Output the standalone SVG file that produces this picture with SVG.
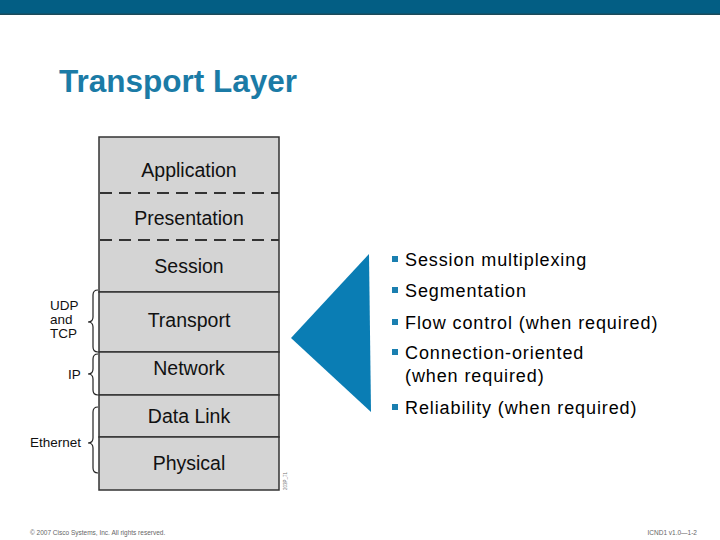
<svg xmlns="http://www.w3.org/2000/svg" width="720" height="540" viewBox="0 0 720 540">
<style>
.layer{fill:#d4d4d4;stroke:#333;stroke-width:1.5}
.ltxt{font-family:"Liberation Sans",Arial,sans-serif;font-size:19.5px;fill:#111;text-anchor:middle}
.dash{stroke:#333;stroke-width:2;stroke-dasharray:12 7}
.brace{fill:none;stroke:#222;stroke-width:1.2}
.lbl{font-family:"Liberation Sans",Arial,sans-serif;font-size:13.5px;fill:#111}
.bul{font-family:"Liberation Sans",Arial,sans-serif;font-size:18px;fill:#000;letter-spacing:0.9px}
.sq{fill:#1a7fb0}
.foot{font-family:"Liberation Sans",Arial,sans-serif;font-size:6.5px;fill:#666}
</style>
<rect width="720" height="540" fill="#fff"/>
<g id="header">
<rect x="0" y="0" width="720" height="14" fill="#035e84"/>
<rect x="0" y="13.5" width="720" height="1.5" fill="#1c4a5a"/>
</g>
<text id="title" x="59" y="92" font-family="'Liberation Sans',Arial,sans-serif" font-size="31.5" font-weight="bold" fill="#1b7ba6">Transport Layer</text>
<g id="upper-layers">
<rect class="layer" x="99" y="137" width="180" height="155"/>
<line class="dash" x1="100" y1="193" x2="279" y2="193"/>
<line class="dash" x1="100" y1="240" x2="279" y2="240"/>
<text class="ltxt" x="189" y="177">Application</text>
<text class="ltxt" x="189" y="225">Presentation</text>
<text class="ltxt" x="189" y="273">Session</text>
</g>
<g id="transport"><rect class="layer" x="99" y="292" width="180" height="60"/><text class="ltxt" x="189" y="327">Transport</text></g>
<g id="network"><rect class="layer" x="99" y="352" width="180" height="43"/><text class="ltxt" x="189" y="375">Network</text></g>
<g id="datalink"><rect class="layer" x="99" y="395" width="180" height="42"/><text class="ltxt" x="189" y="423">Data Link</text></g>
<g id="physical"><rect class="layer" x="99" y="437" width="180" height="53"/><text class="ltxt" x="189" y="470">Physical</text></g>
<text x="287" y="490" transform="rotate(-90 287 490)" font-family="'Liberation Sans',Arial,sans-serif" font-size="4.5" fill="#777">203P_71</text>
<g id="braces">
<g id="udp-tcp">
<path class="brace" d="M98,290 Q93,290 93,295 L93,317 Q93,322 88,322 Q93,322 93,327 L93,347 Q93,352 98,352"/>
<text class="lbl" x="50" y="310">UDP</text>
<text class="lbl" x="50" y="324">and</text>
<text class="lbl" x="50" y="338">TCP</text>
</g>
<g id="ip">
<path class="brace" d="M98,354 Q93,354 93,359 L93,369 Q93,374 88,374 Q93,374 93,379 L93,390 Q93,395 98,395"/>
<text class="lbl" x="68" y="379">IP</text>
</g>
<g id="ethernet">
<path class="brace" d="M98,407 Q93,407 93,412 L93,438 Q93,443 88,443 Q93,443 93,448 L93,468 Q93,473 98,473"/>
<text class="lbl" x="30" y="447">Ethernet</text>
</g>
</g>
<g id="arrow">
<polygon points="369,254 291,338 371,412" fill="#0a7db4"/>
</g>
<g id="bullets">
<rect class="sq" x="392" y="256" width="6" height="6"/><text class="bul" x="405" y="266">Session multiplexing</text>
<rect class="sq" x="392" y="287" width="6" height="6"/><text class="bul" x="405" y="297">Segmentation</text>
<rect class="sq" x="392" y="319" width="6" height="6"/><text class="bul" x="405" y="329">Flow control (when required)</text>
<rect class="sq" x="392" y="349" width="6" height="6"/><text class="bul" x="405" y="359">Connection-oriented</text>
<text class="bul" x="405" y="382">(when required)</text>
<rect class="sq" x="392" y="404" width="6" height="6"/><text class="bul" x="405" y="414">Reliability (when required)</text>
</g>
<g id="footer">
<text class="foot" x="30" y="535">© 2007 Cisco Systems, Inc. All rights reserved.</text>
<text class="foot" x="697" y="535" text-anchor="end">ICND1 v1.0—1-2</text>
</g>
</svg>
